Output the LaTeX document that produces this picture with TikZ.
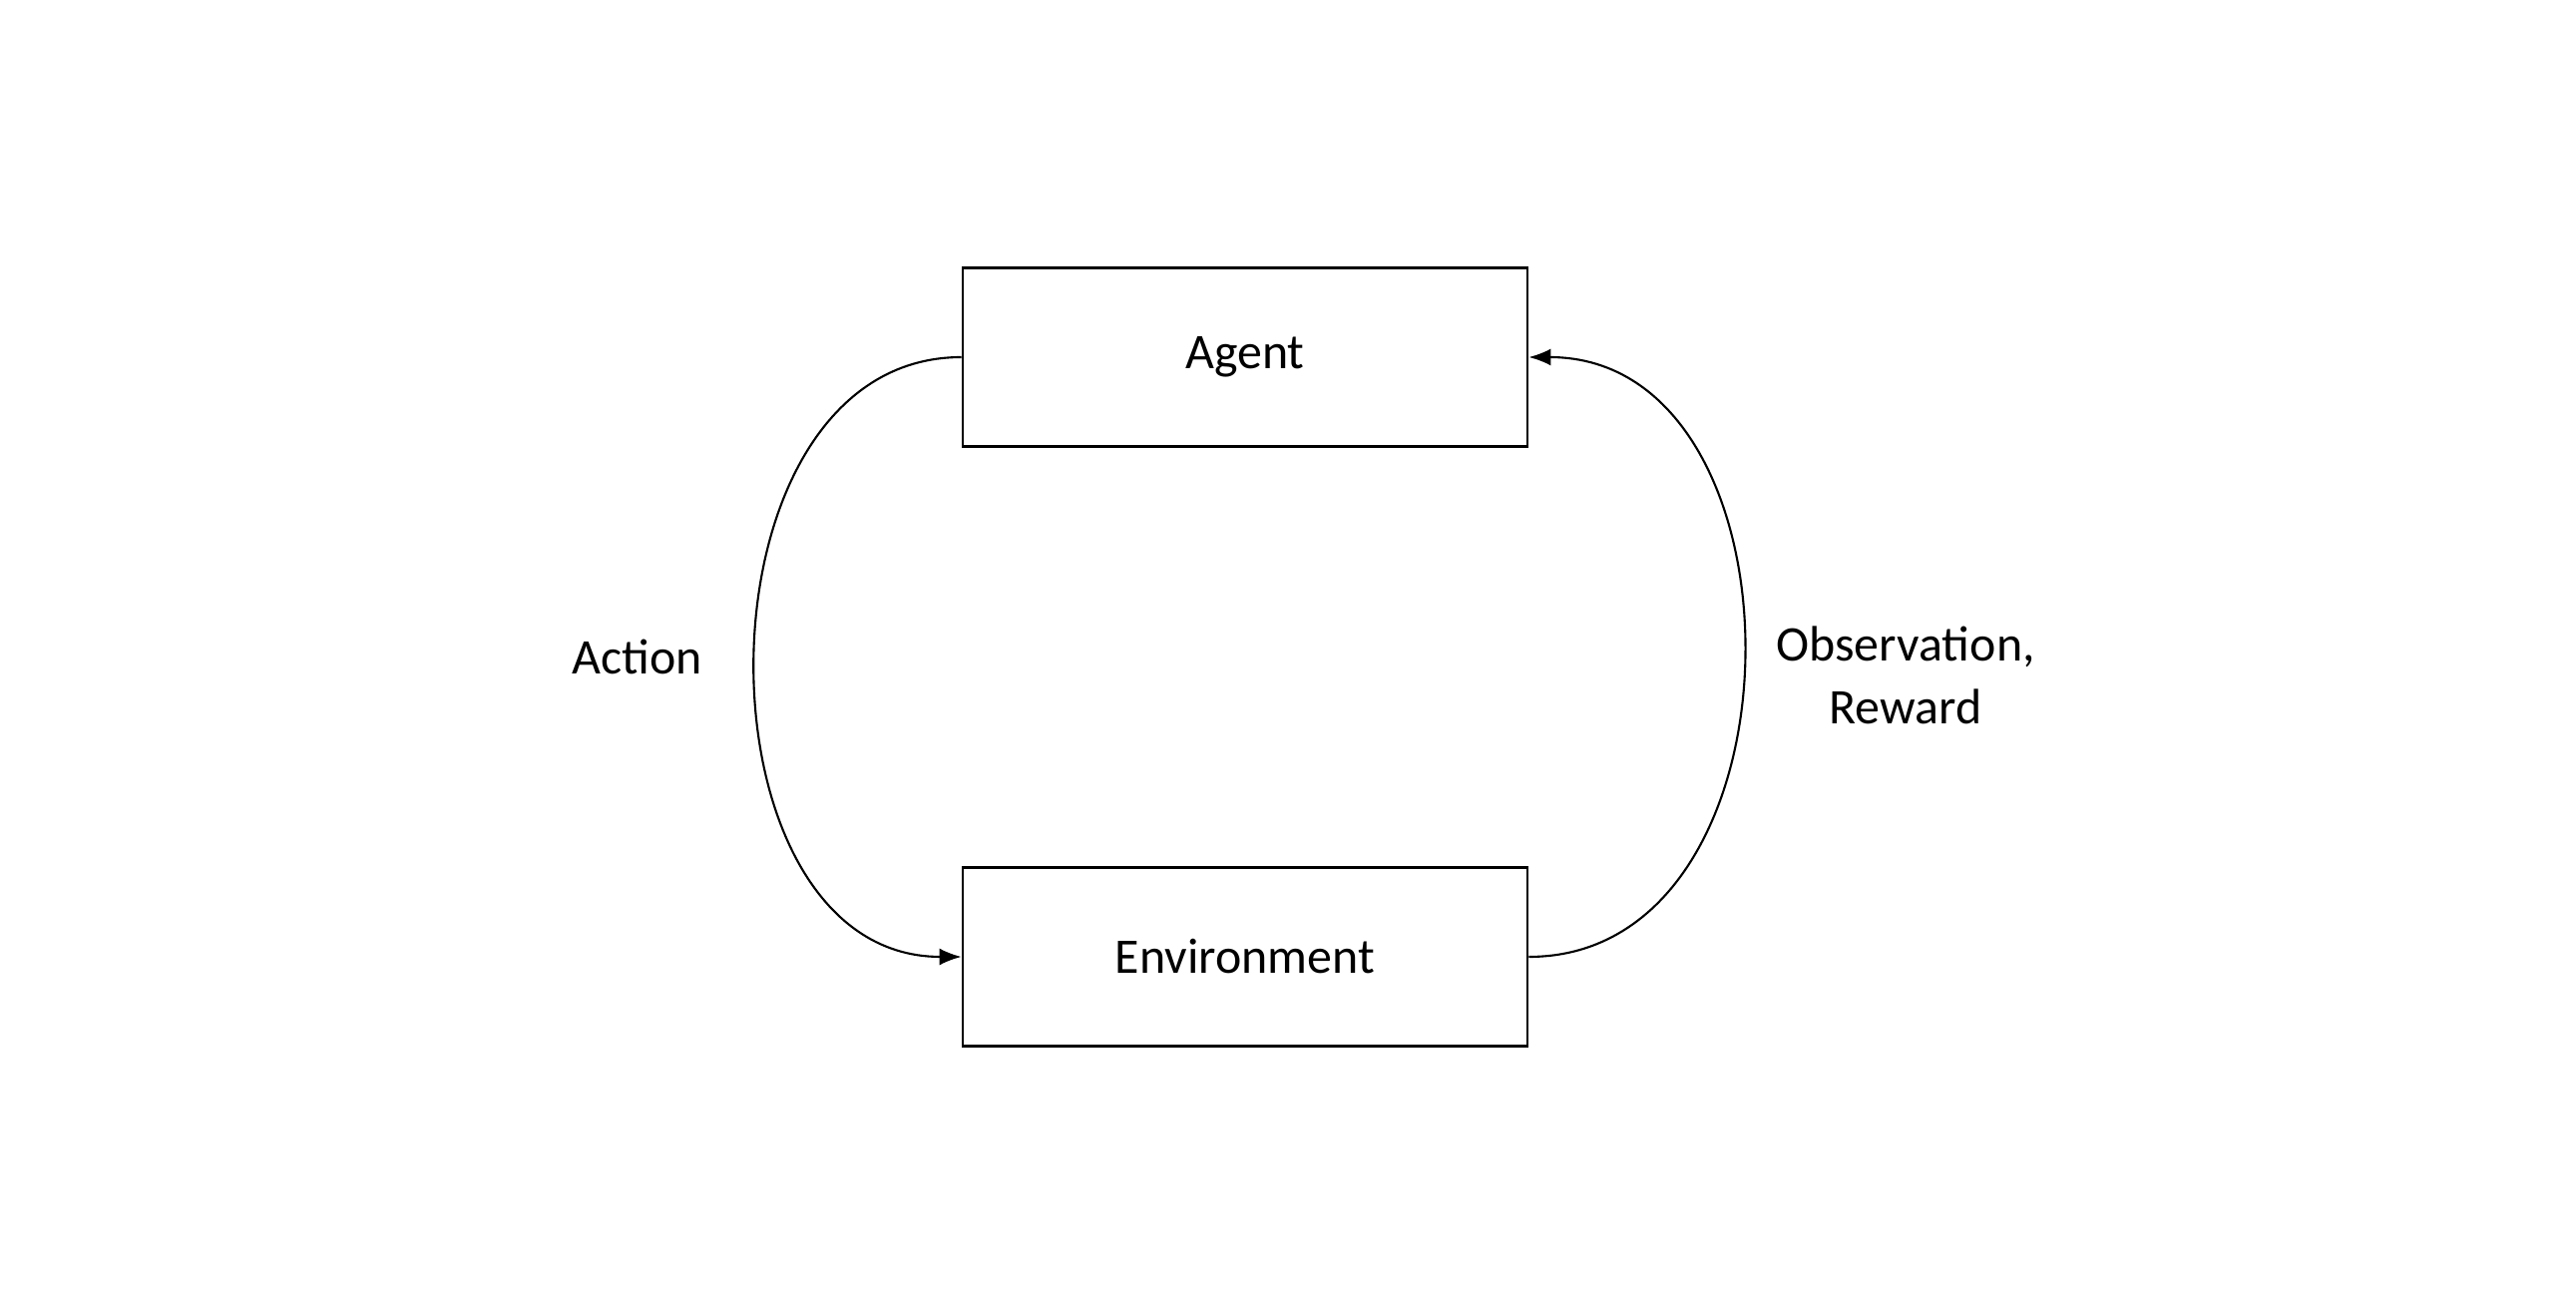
\documentclass[tikz,border=0pt]{standalone}
\usepackage{fontspec}
\setmainfont{Carlito}
\usetikzlibrary{arrows.meta}
\begin{document}
\begin{tikzpicture}[font=\fontsize{14.2}{18}\selectfont,
    box/.style={draw=black, line width=0.8pt, minimum width=5.66cm, minimum height=1.79cm},
    loop/.style={draw=black, line width=0.6pt, -{Latex[length=2.2mm, width=1.7mm]}}]
\useasboundingbox (0, 0) rectangle (25.82, -13.14);
\node[box] (agent) at(12.48, -3.58) {Agent};
\node[box] (env) at(12.48, -9.59) {Environment};
\node (action) at(6.39, -6.58) {Action};
\node[align=center] (obs) at(19.1, -6.77) {Observation,\\Reward};
\draw[loop] (agent.west) to[out=180, in=180, looseness=1.17] (env.west);
\draw[loop] (env.east) to[out=0, in=0, looseness=1.22] (agent.east);
\end{tikzpicture}
\end{document}
